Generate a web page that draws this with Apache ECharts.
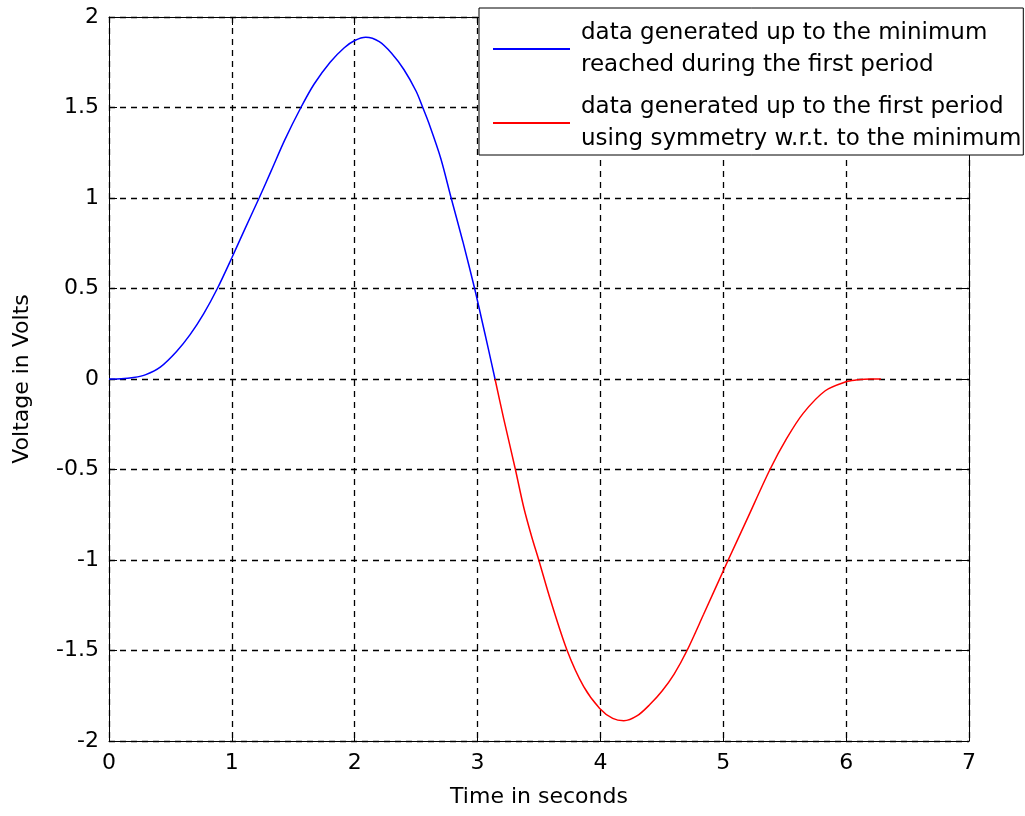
<!DOCTYPE html>
<html>
<head>
<meta charset="utf-8">
<script src="https://cdn.jsdelivr.net/npm/echarts@6/dist/echarts.min.js"></script>
<style>
  html, body { margin: 0; padding: 0; background: #fff; }
  #chart { width: 1025px; height: 816px; }
</style>
</head>
<body>
<div id="chart"></div>
<script>
// Voltage waveform over one period: first half computed up to the minimum,
// second half filled in by symmetry.
const blueTime  = [0, 0.1, 0.2, 0.3, 0.42, 0.55, 0.66, 0.77, 0.882, 1.0, 1.1, 1.222, 1.32, 1.43, 1.562, 1.67, 1.8, 1.915, 2.0, 2.09, 2.2, 2.3, 2.4, 2.5, 2.554, 2.6, 2.7, 2.785, 2.88, 2.976, 3.03, 3.09, 3.142];
const blueVolts = [0, 0.001, 0.008, 0.024, 0.067, 0.152, 0.245, 0.36, 0.5, 0.67, 0.82, 1.0, 1.15, 1.32, 1.5, 1.63, 1.75, 1.83, 1.87, 1.888, 1.864, 1.8, 1.71, 1.59, 1.5, 1.42, 1.22, 1.0, 0.76, 0.5, 0.34, 0.16, 0];

const redTime  = [3.142, 3.213, 3.308, 3.376, 3.44, 3.498, 3.593, 3.729, 3.864, 3.994, 4.1, 4.19, 4.3, 4.4, 4.5, 4.6, 4.705, 4.84, 5.04, 5.19, 5.38, 5.515, 5.65, 5.83, 6.0, 6.08, 6.2, 6.283];
const redVolts = [0, -0.22, -0.5, -0.71, -0.87, -1.0, -1.22, -1.5, -1.7, -1.82, -1.875, -1.888, -1.86, -1.8, -1.725, -1.63, -1.5, -1.3, -1.0, -0.78, -0.5, -0.33, -0.19, -0.065, -0.015, -0.006, 0, 0];

const seriesNames = [
  'data generated up to the minimum\nreached during the first period',
  'data generated up to the first period\nusing symmetry w.r.t. to the minimum'
];

const xRange = { min: 0, max: 7, step: 1 };
const yRange = { min: -2, max: 2, step: 0.5 };
const xTitle = 'Time in seconds';
const yTitle = 'Voltage in Volts';

const FONT = '"DejaVu Sans", "Liberation Sans", Arial, sans-serif';

const toPairs = (ts, vs) => ts.map((t, i) => [t, vs[i]]);

const gridDash = { type: [6, 5], color: '#000', width: 1.3 };

function axisBase(range) {
  return {
    type: 'value',
    min: range.min,
    max: range.max,
    interval: range.step,
    axisLine: { show: true, onZero: false, lineStyle: { color: '#000', width: 1 } },
    axisTick: { show: true, inside: true, length: 8, lineStyle: { color: '#000', width: 1 } }
  };
}

const chart = echarts.init(document.getElementById('chart'), null, { renderer: 'canvas' });

chart.setOption({
  animation: false,
  backgroundColor: '#fff',
  grid: { left: 109, right: 56, top: 17, bottom: 75, show: false },
  xAxis: [
    Object.assign(axisBase(xRange), {
      position: 'bottom',
      name: xTitle,
      nameLocation: 'middle',
      nameGap: 45,
      nameTextStyle: { fontFamily: FONT, fontSize: 22, color: '#000' },
      axisLabel: { show: true, margin: 11, fontFamily: FONT, fontSize: 22, color: '#000', showMinLabel: true, showMaxLabel: true },
      splitLine: { show: true, lineStyle: gridDash }
    }),
    Object.assign(axisBase(xRange), {
      position: 'top',
      axisLabel: { show: false },
      splitLine: { show: false }
    })
  ],
  yAxis: [
    Object.assign(axisBase(yRange), {
      position: 'left',
      name: yTitle,
      nameLocation: 'middle',
      nameGap: 76,
      nameRotate: 90,
      nameTextStyle: { fontFamily: FONT, fontSize: 22, color: '#000' },
      axisLabel: { show: true, margin: 10, fontFamily: FONT, fontSize: 22, color: '#000', showMinLabel: true, showMaxLabel: true },
      splitLine: { show: true, lineStyle: gridDash }
    }),
    Object.assign(axisBase(yRange), {
      position: 'right',
      axisLabel: { show: false },
      splitLine: { show: false }
    })
  ],
  legend: {
    orient: 'vertical',
    left: 479,
    top: 8,
    padding: [9, 2, 0, 14],
    itemGap: 10,
    itemWidth: 77,
    itemHeight: 2,
    icon: 'rect',
    borderColor: '#000',
    borderWidth: 1,
    backgroundColor: '#fff',
    textStyle: { fontFamily: FONT, fontSize: 23, lineHeight: 32, color: '#000', padding: [0, 0, 0, 6] },
    data: seriesNames
  },
  series: [
    {
      name: seriesNames[0],
      type: 'line',
      xAxisIndex: 0,
      yAxisIndex: 0,
      data: toPairs(blueTime, blueVolts),
      showSymbol: false,
      symbol: 'none',
      smooth: 0.3,
      color: '#0000ff',
      lineStyle: { color: '#0000ff', width: 1.5 },
      z: 3
    },
    {
      name: seriesNames[1],
      type: 'line',
      xAxisIndex: 0,
      yAxisIndex: 0,
      data: toPairs(redTime, redVolts),
      showSymbol: false,
      symbol: 'none',
      smooth: 0.3,
      color: '#ff0000',
      lineStyle: { color: '#ff0000', width: 1.5 },
      z: 3
    }
  ]
});
</script>
</body>
</html>
